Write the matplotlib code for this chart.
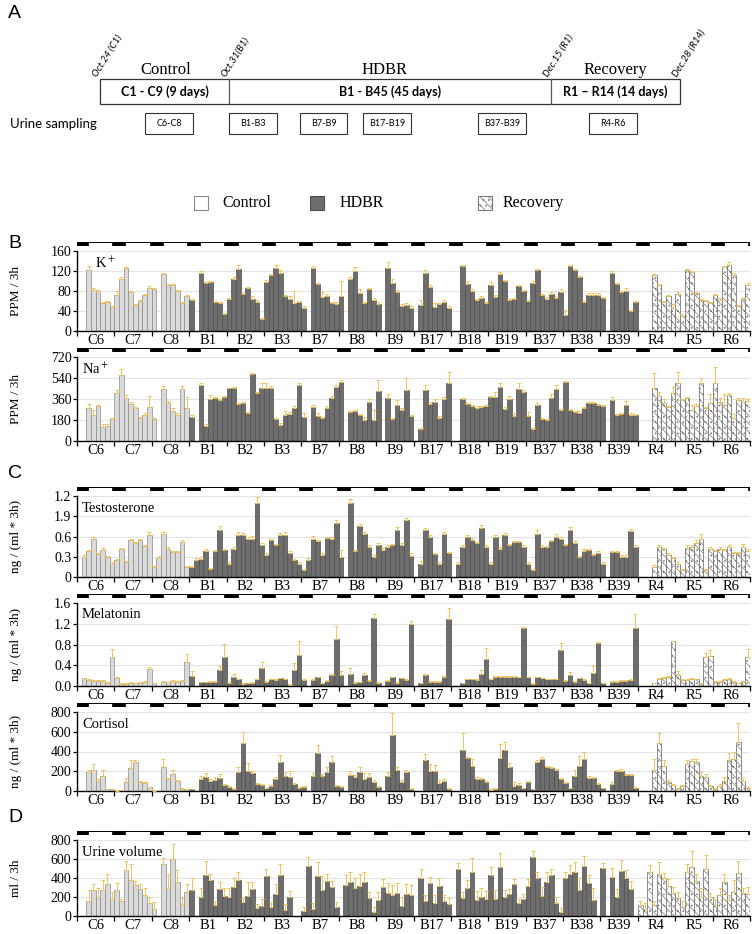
import numpy as np
import matplotlib.pyplot as plt
from matplotlib.patches import Rectangle

nan = np.nan
W, H = 755, 934

days = ['C6', 'C7', 'C8', 'B1', 'B2', 'B3', 'B7', 'B8', 'B9',
        'B17', 'B18', 'B19', 'B37', 'B38', 'B39', 'R4', 'R5', 'R6']

# one row per day, 8 samples of 3 h each
k_val = [
    [nan, nan, 123, 83, 78, 56, 59, 49],
    [72, 104, 127, 78, 52, 60, 72, 86],
    [84, nan, 114, 92, 92, 80, 56, 70],
    [62, nan, 117, 96, 99, 59, 56, 34],
    [64, 104, 125, 74, 86, 65, 58, 25],
    [98, 112, 126, 117, 70, 65, 56, 58],
    [47, nan, 127, 95, 68, 70, 56, 55],
    [70, nan, 104, 121, 77, 56, 84, 63],
    [55, nan, 127, 97, 79, 50, 53, 47],
    [nan, 53, 117, 88, 48, 54, 59, 47],
    [nan, nan, 130, 95, 80, 62, 67, 56],
    [92, 68, 115, 100, 62, 64, 90, 80],
    [60, 96, 122, 73, 64, 75, 66, 78],
    [33, 130, 122, 108, 58, 73, 73, 73],
    [66, nan, 117, 95, 78, 80, 40, 58],
    [nan, nan, nan, 112, 92, 58, 70, 47],
    [75, 31, 122, 118, 76, 62, 60, 56],
    [72, 63, 128, 133, 112, 50, 65, 93],
]
k_err = [
    [0, 0, 8, 4, 4, 2, 2, 2],
    [8, 4, 2, 3, 2, 3, 3, 4],
    [3, 0, 2, 3, 3, 2, 2, 3],
    [2, 0, 4, 2, 2, 2, 2, 2],
    [2, 4, 7, 3, 3, 5, 5, 2],
    [5, 3, 7, 6, 3, 6, 25, 3],
    [4, 0, 3, 2, 10, 5, 3, 3],
    [30, 0, 4, 7, 8, 2, 2, 3],
    [4, 0, 12, 8, 4, 5, 3, 3],
    [0, 10, 5, 5, 8, 3, 3, 3],
    [0, 0, 3, 5, 4, 3, 4, 2],
    [6, 4, 3, 3, 3, 3, 3, 3],
    [3, 4, 3, 2, 4, 3, 3, 6],
    [10, 3, 3, 3, 3, 3, 3, 3],
    [3, 0, 4, 2, 2, 6, 2, 2],
    [0, 0, 0, 2, 2, 2, 2, 8],
    [3, 3, 2, 2, 2, 2, 2, 2],
    [2, 3, 3, 5, 5, 3, 2, 3],
]

na_val = [
    [nan, nan, 280, 223, 300, 117, 129, 189],
    [409, 566, 371, 317, 280, 200, 223, 294],
    [186, nan, 443, 323, 260, 223, 443, 280],
    [203, nan, 480, 129, 360, 371, 351, 374],
    [451, 457, 317, 323, 237, 574, 414, 451],
    [451, 451, 189, 137, 223, 229, 280, 480],
    [209, nan, 289, 217, 194, 280, 371, 466],
    [509, nan, 251, 260, 223, 180, 331, 180],
    [429, nan, 371, 186, 309, 266, 437, 217],
    [nan, 103, 437, 317, 337, 194, 360, 494],
    [nan, nan, 360, 317, 300, 280, 289, 300],
    [374, 380, 466, 271, 360, 217, 443, 423],
    [217, 100, 309, 189, 180, 366, 443, 266],
    [503, 266, 251, 243, 280, 323, 323, 309],
    [300, nan, 351, 223, 231, 309, 223, 223],
    [nan, nan, nan, 451, 386, 323, 289, 409],
    [494, 351, 371, 266, 300, 494, 280, 323],
    [494, 337, 309, 394, 194, 351, 337, 340],
]
na_err = [
    [0, 0, 40, 40, 5, 30, 20, 5],
    [30, 50, 25, 20, 15, 10, 15, 95],
    [15, 0, 30, 20, 20, 20, 25, 100],
    [20, 0, 15, 20, 35, 10, 10, 10],
    [5, 10, 10, 10, 10, 10, 10, 50],
    [50, 20, 10, 20, 30, 20, 20, 20],
    [30, 0, 20, 20, 15, 20, 15, 10],
    [10, 0, 10, 10, 10, 30, 30, 90],
    [90, 0, 30, 10, 40, 20, 100, 10],
    [0, 10, 40, 20, 20, 20, 20, 100],
    [0, 0, 10, 10, 10, 20, 10, 10],
    [10, 40, 30, 20, 30, 20, 50, 10],
    [30, 10, 20, 10, 10, 40, 40, 10],
    [10, 10, 10, 10, 10, 10, 10, 10],
    [10, 0, 30, 10, 10, 30, 20, 10],
    [0, 0, 0, 130, 30, 40, 10, 50],
    [100, 10, 10, 40, 20, 50, 10, 80],
    [140, 30, 90, 20, 40, 20, 30, 20],
]

t_val = [
    [nan, 0.29, 0.38, 0.56, 0.34, 0.40, 0.29, 0.20],
    [0.25, 0.41, 0.22, 0.55, 0.50, 0.55, 0.46, 0.62],
    [0.15, 0.28, 0.64, 0.42, 0.37, 0.37, 0.52, 0.15],
    [0.15, 0.25, 0.27, 0.38, 0.12, 0.38, 0.70, 0.40],
    [0.20, 0.42, 0.62, 0.62, 0.57, 0.57, 1.10, 0.47],
    [0.33, 0.55, 0.47, 0.62, 0.62, 0.36, 0.25, 0.20],
    [0.10, 0.25, 0.57, 0.53, 0.33, 0.58, 0.57, 0.80],
    [0.30, nan, 1.10, 0.38, 0.75, 0.63, 0.45, 0.30],
    [0.47, 0.40, 0.44, 0.47, 0.69, 0.47, 0.84, 0.31],
    [nan, 0.20, 0.69, 0.59, 0.34, 0.20, 0.64, 0.35],
    [nan, 0.20, 0.44, 0.60, 0.55, 0.50, 0.72, 0.44],
    [0.20, 0.59, 0.42, 0.62, 0.47, 0.52, 0.52, 0.45],
    [0.20, 0.10, 0.64, 0.45, 0.44, 0.53, 0.60, 0.57],
    [0.47, 0.69, 0.50, 0.29, 0.39, 0.40, 0.32, 0.36],
    [0.20, nan, 0.37, 0.37, 0.30, 0.30, 0.68, 0.44],
    [nan, nan, nan, 0.15, 0.45, 0.41, 0.32, 0.28],
    [0.20, 0.10, 0.43, 0.45, 0.50, 0.56, 0.10, 0.42],
    [0.38, 0.42, 0.40, 0.45, 0.35, 0.35, 0.45, 0.38],
]
t_err = [
    [0, 0.03, 0.02, 0.03, 0.02, 0.03, 0.02, 0.02],
    [0.02, 0.02, 0.02, 0.02, 0.02, 0.02, 0.02, 0.05],
    [0.02, 0.03, 0.03, 0.02, 0.02, 0.02, 0.03, 0.02],
    [0.02, 0.03, 0.02, 0.04, 0.02, 0.02, 0.05, 0.02],
    [0.02, 0.02, 0.05, 0.03, 0.03, 0.04, 0.08, 0.04],
    [0.03, 0.02, 0.02, 0.03, 0.04, 0.02, 0.02, 0.02],
    [0.02, 0.03, 0.04, 0.02, 0.02, 0.02, 0.03, 0.05],
    [0.10, 0, 0.06, 0.02, 0.04, 0.03, 0.02, 0.02],
    [0.03, 0.03, 0.04, 0.02, 0.05, 0.03, 0.04, 0.04],
    [0, 0.03, 0.04, 0.03, 0.02, 0.02, 0.03, 0.02],
    [0, 0.02, 0.03, 0.02, 0.03, 0.02, 0.05, 0.03],
    [0.02, 0.03, 0.02, 0.03, 0.02, 0.02, 0.02, 0.03],
    [0.02, 0.02, 0.06, 0.02, 0.02, 0.02, 0.03, 0.03],
    [0.02, 0.05, 0.03, 0.02, 0.02, 0.02, 0.02, 0.02],
    [0.02, 0, 0.02, 0.02, 0.02, 0.02, 0.03, 0.03],
    [0, 0, 0, 0.03, 0.02, 0.02, 0.03, 0.02],
    [0.02, 0.02, 0.04, 0.03, 0.05, 0.08, 0.02, 0.03],
    [0.02, 0.03, 0.02, 0.03, 0.02, 0.02, 0.04, 0.03],
]

m_val = [
    [nan, 0.15, 0.12, 0.10, 0.10, 0.10, 0.06, 0.56],
    [0.15, 0.04, 0.04, 0.06, 0.05, 0.06, 0.08, 0.32],
    [0.05, nan, 0.07, 0.07, 0.09, 0.08, 0.10, 0.47],
    [0.19, nan, 0.07, 0.07, 0.08, 0.08, 0.30, 0.56],
    [0.06, 0.18, 0.13, 0.04, 0.05, 0.06, 0.13, 0.34],
    [0.08, 0.13, 0.12, 0.15, 0.13, 0.02, 0.30, 0.59],
    [0.12, nan, 0.12, 0.17, 0.05, 0.10, 0.21, 0.91],
    [0.21, nan, 0.24, 0.06, 0.07, 0.21, 0.10, 1.31],
    [0.06, nan, 0.10, 0.17, 0.06, 0.15, 0.12, 1.20],
    [nan, 0.05, 0.22, 0.08, 0.08, 0.08, 0.17, 1.30],
    [nan, nan, 0.05, 0.13, 0.13, 0.12, 0.24, 0.53],
    [0.13, 0.18, 0.18, 0.18, 0.18, 0.18, 0.17, 1.11],
    [0.17, 0.04, 0.17, 0.15, 0.13, 0.13, 0.13, 0.70],
    [0.10, 0.22, 0.08, 0.15, 0.12, 0.05, 0.26, 0.83],
    [0.05, nan, 0.08, 0.08, 0.10, 0.10, 0.12, 1.11],
    [nan, nan, nan, 0.05, 0.13, 0.15, 0.18, 0.86],
    [0.21, 0.12, 0.12, 0.13, 0.13, 0.05, 0.56, 0.58],
    [0.08, 0.08, 0.12, 0.13, 0.08, 0.05, 0.08, 0.56],
]
m_err = [
    [0, 0.01, 0.01, 0.01, 0.01, 0.01, 0.01, 0.16],
    [0.03, 0.01, 0.01, 0.01, 0.01, 0.01, 0.01, 0.05],
    [0.01, 0, 0.02, 0.01, 0.03, 0.02, 0.02, 0.15],
    [0.10, 0, 0.01, 0.01, 0.01, 0.01, 0.08, 0.25],
    [0.01, 0.05, 0.01, 0.01, 0.01, 0.01, 0.01, 0.12],
    [0.02, 0.01, 0.01, 0.01, 0.01, 0.01, 0.15, 0.28],
    [0.02, 0, 0.01, 0.01, 0.01, 0.01, 0.03, 0.24],
    [0.08, 0, 0.11, 0.01, 0.01, 0.04, 0.01, 0.08],
    [0.01, 0, 0.01, 0.01, 0.01, 0.01, 0.01, 0.05],
    [0, 0.01, 0.01, 0.01, 0.01, 0.01, 0.02, 0.20],
    [0, 0, 0.01, 0.01, 0.01, 0.01, 0.06, 0.20],
    [0.01, 0.02, 0.02, 0.01, 0.01, 0.01, 0.01, 0.03],
    [0.01, 0.01, 0.01, 0.01, 0.01, 0.01, 0.01, 0.12],
    [0.01, 0.05, 0.01, 0.01, 0.01, 0.01, 0.12, 0.02],
    [0.01, 0, 0.01, 0.01, 0.01, 0.01, 0.01, 0.28],
    [0, 0, 0, 0.01, 0.02, 0.02, 0.02, 0.01],
    [0.08, 0.01, 0.01, 0.02, 0.01, 0.01, 0.08, 0.12],
    [0.01, 0.01, 0.01, 0.02, 0.01, 0.01, 0.01, 0.15],
]

c_val = [
    [nan, nan, 195, 210, 100, 155, 17, 17],
    [5, 10, 95, 235, 295, 95, 85, 40],
    [5, nan, 245, 125, 170, 100, 25, 20],
    [20, nan, 125, 145, 100, 115, 135, 60],
    [40, 25, 195, 490, 205, 185, 70, 60],
    [30, 50, 120, 290, 155, 145, 70, 35],
    [40, nan, 155, 380, 150, 195, 290, 50],
    [45, nan, 160, 145, 195, 125, 145, 90],
    [45, nan, 155, 565, 210, 95, 190, 25],
    [nan, nan, 310, 205, 200, 80, 105, 25],
    [nan, nan, 420, 330, 250, 120, 120, 95],
    [15, 25, 335, 420, 245, 50, 65, 30],
    [95, 20, 290, 320, 240, 235, 210, 120],
    [80, 30, 155, 250, 320, 130, 130, 70],
    [30, nan, 70, 205, 200, 165, 160, 35],
    [nan, nan, nan, 210, 490, 250, 90, 65],
    [25, 50, 275, 300, 290, 150, 140, 50],
    [25, 55, 100, 310, 320, 500, 100, 30],
]
c_err = [
    [0, 0, 15, 60, 20, 55, 5, 5],
    [5, 5, 40, 80, 20, 10, 10, 5],
    [5, 0, 80, 10, 40, 10, 5, 5],
    [5, 0, 30, 40, 20, 30, 40, 10],
    [10, 5, 50, 110, 80, 20, 15, 10],
    [5, 10, 20, 70, 40, 60, 10, 10],
    [10, 0, 30, 90, 20, 50, 60, 10],
    [10, 0, 40, 20, 50, 60, 40, 20],
    [10, 0, 40, 220, 30, 15, 20, 5],
    [0, 0, 60, 70, 60, 30, 20, 5],
    [0, 0, 170, 10, 70, 20, 15, 10],
    [5, 5, 140, 80, 40, 40, 20, 5],
    [10, 5, 20, 20, 10, 10, 10, 10],
    [10, 5, 60, 100, 70, 20, 15, 10],
    [5, 0, 20, 10, 20, 10, 10, 5],
    [0, 0, 0, 110, 100, 60, 20, 10],
    [5, 10, 40, 20, 30, 40, 30, 10],
    [5, 20, 40, 70, 70, 190, 30, 10],
]

u_val = [
    [nan, nan, 160, 275, 200, 275, 340, 180],
    [275, 155, 485, 380, 330, 280, 225, 140],
    [75, nan, 550, 290, 600, 360, 130, 255],
    [275, nan, 205, 435, 380, 115, 285, 210],
    [205, 305, 380, 150, 210, 280, 85, 105],
    [420, 95, 235, 435, 65, 200, nan, nan],
    [55, 530, 75, 425, 275, 370, 310, 95],
    [nan, 330, 360, 300, 320, 360, 190, 45],
    [170, 305, 245, 225, 245, 105, 235, 225],
    [nan, 400, 155, 345, 140, 320, 160, 125],
    [nan, 500, 190, 300, 465, 165, 200, 180],
    [435, 175, 520, 205, 235, 340, 140, 175],
    [320, 620, 400, 210, 360, 435, 140, 40],
    [400, 440, 460, 275, 530, 350, 170, nan],
    [505, nan, 410, 200, 470, 400, 285, nan],
    [115, 75, 460, 115, 440, 400, 320, 245],
    [185, 100, 465, 515, 365, 200, 500, 200],
    [115, 220, 355, 165, 255, 450, 240, 230],
]
u_err = [
    [0, 0, 110, 60, 100, 100, 100, 70],
    [70, 20, 90, 170, 40, 60, 70, 60],
    [70, 0, 60, 150, 160, 120, 60, 80],
    [120, 0, 90, 140, 60, 40, 70, 80],
    [90, 90, 80, 40, 150, 80, 40, 70],
    [80, 50, 100, 110, 60, 60, 0, 0],
    [40, 90, 60, 140, 150, 70, 60, 50],
    [0, 100, 100, 100, 120, 100, 60, 50],
    [80, 80, 100, 100, 100, 100, 100, 100],
    [0, 90, 70, 70, 80, 80, 60, 60],
    [0, 60, 60, 80, 150, 100, 90, 80],
    [80, 100, 140, 70, 50, 50, 40, 60],
    [70, 60, 60, 100, 100, 60, 60, 40],
    [60, 100, 110, 120, 100, 80, 120, 0],
    [50, 0, 100, 80, 120, 80, 80, 0],
    [40, 60, 80, 40, 130, 50, 70, 60],
    [70, 60, 80, 170, 80, 90, 140, 40],
    [60, 70, 90, 60, 120, 130, 60, 80],
]

plt.rcParams['font.family'] = ['Liberation Serif', 'DejaVu Serif']
plt.rcParams['mathtext.fontset'] = 'stix'
plt.rcParams['hatch.linewidth'] = 0.5
plt.rcParams['hatch.color'] = '#8c8c8c'

fig = plt.figure(figsize=(W / 100, H / 100), dpi=100)


def box(l, t, r, b):
    return [l / W, 1 - b / H, (r - l) / W, (b - t) / H]


LIGHT = '#dadada'
DARK = '#6d6d6d'
HATCH = '\\\\\\\\...'
ERRC = '#efc35c'
X0, X1 = 77, 750


def panel(top, bot, val, err, ymax, step, ylab, title, title_x=82, ylabels=None):
    v = np.array(val, float).ravel()
    e = np.array(err, float).ravel()
    x = np.arange(len(v)) + 0.5
    ok = ~np.isnan(v)
    ax = fig.add_axes(box(X0, top, X1, bot))
    ctl = ok & (x < 24)
    hd = ok & (x >= 24) & (x < 120)
    rec = ok & (x >= 120)
    ax.bar(x[ctl], v[ctl], 1, color=LIGHT, edgecolor='#8a8a8a', lw=0.5, zorder=2)
    ax.bar(x[hd], v[hd], 1, color=DARK, edgecolor='#4f4f4f', lw=0.5, zorder=2)
    ax.bar(x[rec], v[rec], 1, color='white', edgecolor='#7a7a7a', lw=0.6,
           hatch=HATCH, zorder=2)
    ax.errorbar(x[ok], v[ok], yerr=[np.zeros(ok.sum()), e[ok]], fmt='none',
                ecolor=ERRC, elinewidth=0.7, capsize=1.3, capthick=0.7, zorder=3)
    ax.set_xlim(0, 144)
    ax.set_ylim(0, ymax)
    yt = np.arange(0, ymax + step / 2, step)
    ax.set_yticks(yt)
    if ylabels is not None:
        ax.set_yticklabels(ylabels)
    ax.grid(axis='y', color='#e3e3e3', lw=0.8, zorder=0)
    ax.set_axisbelow(True)
    ax.set_xticks(np.arange(len(days)) * 8 + 4)
    ax.set_xticklabels(days)
    ax.set_xticks(np.arange(0, 145, 8), minor=True)
    ax.tick_params(axis='x', which='major', length=0, labelsize=10.5, pad=2)
    ax.tick_params(axis='x', which='minor', length=3.5, width=0.9, direction='out')
    ax.tick_params(axis='y', length=3, width=0.9, labelsize=10, pad=1)
    for s in ['top', 'right']:
        ax.spines[s].set_visible(False)
    for s in ['left', 'bottom']:
        ax.spines[s].set_linewidth(1.0)
    ax.set_ylabel(ylab, fontsize=9.5, labelpad=3)
    ax.yaxis.set_label_coords(-55 / (X1 - X0), 0.5)
    ax.text((title_x - X0) / (X1 - X0), 1 - 12 / (bot - top), title,
            fontsize=10.5, ha='left', va='center', transform=ax.transAxes)
    # light/dark strip above the panel
    sax = fig.add_axes(box(X0, top - 9, X1, top - 5))
    sax.set_xlim(0, 144)
    sax.set_ylim(0, 1)
    sax.axis('off')
    sax.add_patch(Rectangle((0, 0), 144, 1, fc='white', ec='black', lw=0.7))
    for d in range(19):
        a = max(d * 8 - 0.45, 0)
        b = min(d * 8 + 2.35, 144)
        if b > a:
            sax.add_patch(Rectangle((a, 0), b - a, 1, fc='black', ec='black', lw=0.5))
    return ax


panel(251, 331, k_val, k_err, 160, 40, 'PPM / 3h', 'K$^+$', title_x=95)
panel(357, 441, na_val, na_err, 720, 180, 'PPM / 3h', 'Na$^+$')
panel(496, 577, t_val, t_err, 1.2, 0.3, 'ng / (ml * 3h)', 'Testosterone',
      ylabels=['0', '0.3', '0.6', '1.9', '1.2'])
panel(603, 686, m_val, m_err, 1.6, 0.4, 'ng / (ml * 3h)', 'Melatonin')
panel(712, 791, c_val, c_err, 800, 200, 'ng / (ml * 3h)', 'Cortisol')
panel(840, 916, u_val, u_err, 800, 200, 'ml / 3h', 'Urine volume')

# overlay in pixel coordinates for panel A, legend and letters
ov = fig.add_axes([0, 0, 1, 1])
ov.set_xlim(0, W)
ov.set_ylim(H, 0)
ov.axis('off')

SANS = ['Lato', 'DejaVu Sans']
for lab, y in [('A', 14), ('B', 243), ('C', 473), ('D', 818)]:
    ov.text(8, y, lab, fontsize=14, family=['Liberation Sans'], va='center')

ov.add_patch(Rectangle((100, 79), 580, 25, fill=False, ec='#333333', lw=0.9))
for xx in [229, 551]:
    ov.plot([xx, xx], [79, 104], color='#555555', lw=0.9)
for txt, xx in [('Control', 166), ('HDBR', 385), ('Recovery', 615)]:
    ov.text(xx, 70, txt, fontsize=12, ha='center', va='center')
for txt, xx in [('C1 - C9 (9 days)', 165), ('B1 - B45 (45 days)', 390),
                ('R1 \u2013 R14 (14 days)', 615)]:
    ov.text(xx, 92, txt, fontsize=9, ha='center', va='center', family=SANS,
            weight='bold')
for txt, xx in [('Oct.24 (C1)', 100), ('Oct.31(B1)', 229), ('Dec.15 (R1)', 551),
                ('Dec.28 (R14)', 680)]:
    ov.text(xx - 2, 78, txt, fontsize=7, family=SANS, style='italic', rotation=58,
            rotation_mode='anchor', ha='left', va='bottom')

ov.text(10, 124, 'Urine sampling', fontsize=9.5, family=SANS, va='center')
for txt, l, r in [('C6-C8', 145, 193), ('B1-B3', 229, 277), ('B7-B9', 300, 347),
                  ('B17-B19', 363, 411), ('B37-B39', 478, 526), ('R4-R6', 589, 637)]:
    ov.add_patch(Rectangle((l, 113), r - l, 21, fill=False, ec='#333333', lw=0.8))
    ov.text((l + r) / 2, 124, txt, fontsize=6.5, family=SANS, ha='center', va='center')

# legend
ov.add_patch(Rectangle((194, 196), 14, 14, fc='white', ec='#8a8a8a', lw=0.8))
ov.text(222, 203, 'Control', fontsize=11.5, va='center')
ov.add_patch(Rectangle((310, 196), 14, 14, fc=DARK, ec='#4f4f4f', lw=0.8))
ov.text(340, 203, 'HDBR', fontsize=11.5, va='center')
ov.add_patch(Rectangle((478, 196), 14, 14, fc='white', ec='#7a7a7a', lw=0.8, hatch=HATCH))
ov.text(503, 203, 'Recovery', fontsize=11.5, va='center')

fig.savefig('out.png', dpi=100)
